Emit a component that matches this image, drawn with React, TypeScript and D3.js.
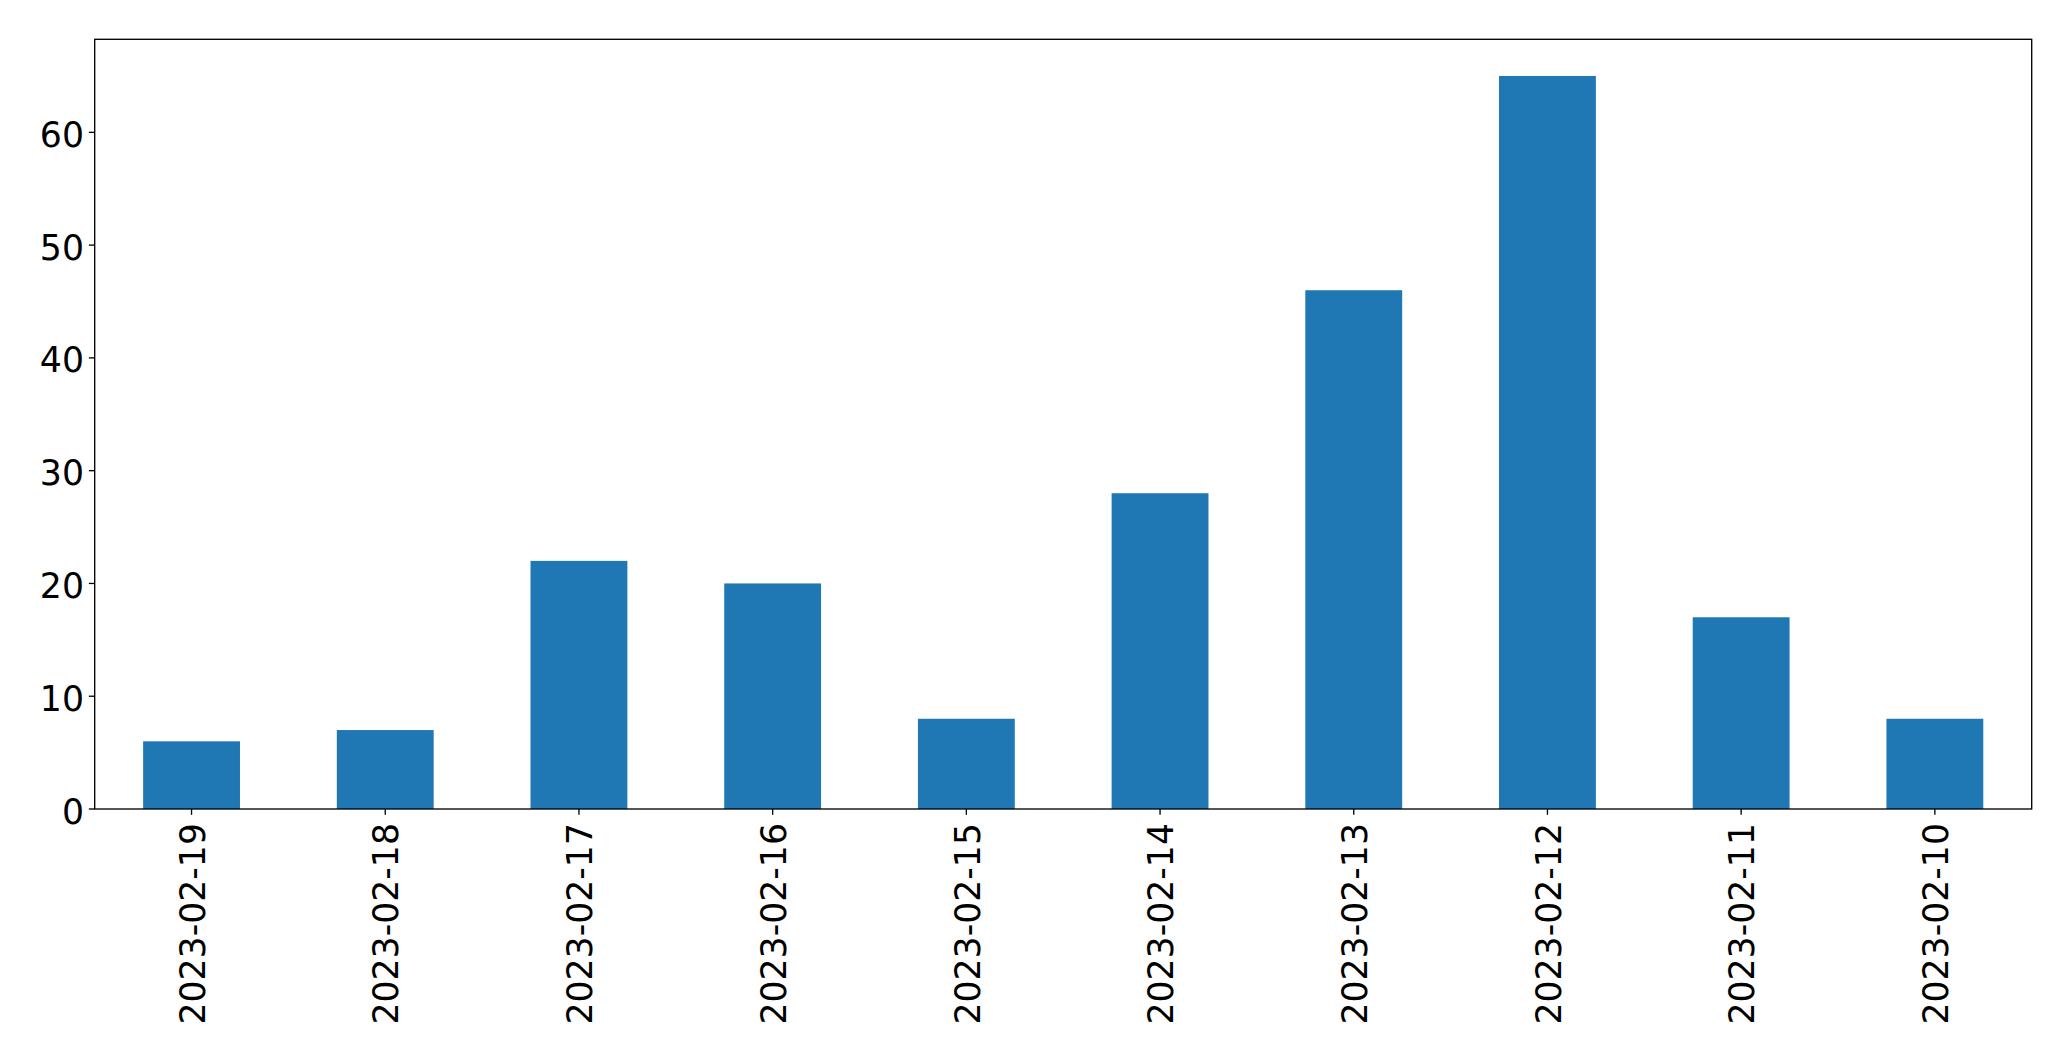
import React, { useEffect, useRef } from "react";
import * as d3 from "d3";

const categories = [
  "2023-02-19",
  "2023-02-18",
  "2023-02-17",
  "2023-02-16",
  "2023-02-15",
  "2023-02-14",
  "2023-02-13",
  "2023-02-12",
  "2023-02-11",
  "2023-02-10",
];
const counts = [6, 7, 22, 20, 8, 28, 46, 65, 17, 8];
const yTicks = [0, 10, 20, 30, 40, 50, 60];

const W = 2071;
const H = 1061;
const M = { left: 94.7, right: 2031.7, top: 39.3, bottom: 809 };
const FONT = "DejaVu Sans, sans-serif";
const FS = 34.7;
const TICK = 5.83;

export default function App() {
  const ref = useRef<SVGSVGElement | null>(null);

  useEffect(() => {
    document.body.style.margin = "0";
    const svg = d3.select(ref.current);
    svg.selectAll("*").remove();

    const x = d3
      .scaleBand<string>()
      .domain(categories)
      .range([M.left, M.right])
      .paddingInner(0)
      .paddingOuter(0);
    const bw = x.bandwidth();
    const barW = bw * 0.5;
    const yMax = d3.max(counts)! * 1.05;
    const y = d3.scaleLinear().domain([0, yMax]).range([M.bottom, M.top]);

    svg
      .append("rect")
      .attr("x", 0)
      .attr("y", 0)
      .attr("width", W)
      .attr("height", H)
      .attr("fill", "#ffffff");

    svg
      .append("g")
      .selectAll("rect")
      .data(counts)
      .join("rect")
      .attr("x", (_d, i) => x(categories[i])! + bw / 2 - barW / 2)
      .attr("width", barW)
      .attr("y", (d) => y(d))
      .attr("height", (d) => y(0) - y(d))
      .attr("fill", "#1f77b4");

    // spines
    svg
      .append("rect")
      .attr("x", M.left)
      .attr("y", M.top)
      .attr("width", M.right - M.left)
      .attr("height", M.bottom - M.top)
      .attr("fill", "none")
      .attr("stroke", "#000")
      .attr("stroke-width", 1.33);

    // y ticks
    const gy = svg.append("g");
    yTicks.forEach((t) => {
      const yy = y(t);
      gy.append("line")
        .attr("x1", M.left - TICK)
        .attr("x2", M.left)
        .attr("y1", yy)
        .attr("y2", yy)
        .attr("stroke", "#000")
        .attr("stroke-width", 1.33);
      gy.append("text")
        .attr("x", 84)
        .attr("y", yy)
        .attr("dy", "0.42em")
        .attr("text-anchor", "end")
        .attr("font-family", FONT)
        .attr("font-size", FS)
        .attr("fill", "#000")
        .text(String(t));
    });

    // x ticks
    const gx = svg.append("g");
    categories.forEach((c) => {
      const xx = x(c)! + bw / 2;
      gx.append("line")
        .attr("x1", xx)
        .attr("x2", xx)
        .attr("y1", M.bottom)
        .attr("y2", M.bottom + TICK)
        .attr("stroke", "#000")
        .attr("stroke-width", 1.33);
      gx.append("text")
        .attr("transform", `translate(${xx},823) rotate(-90)`)
        .attr("dy", "0.38em")
        .attr("text-anchor", "end")
        .attr("font-family", FONT)
        .attr("font-size", FS)
        .attr("fill", "#000")
        .text(c);
    });
  }, []);

  return (
    <svg
      ref={ref}
      width={W}
      height={H}
      style={{ position: "absolute", left: 0, top: 0, display: "block" }}
    />
  );
}
